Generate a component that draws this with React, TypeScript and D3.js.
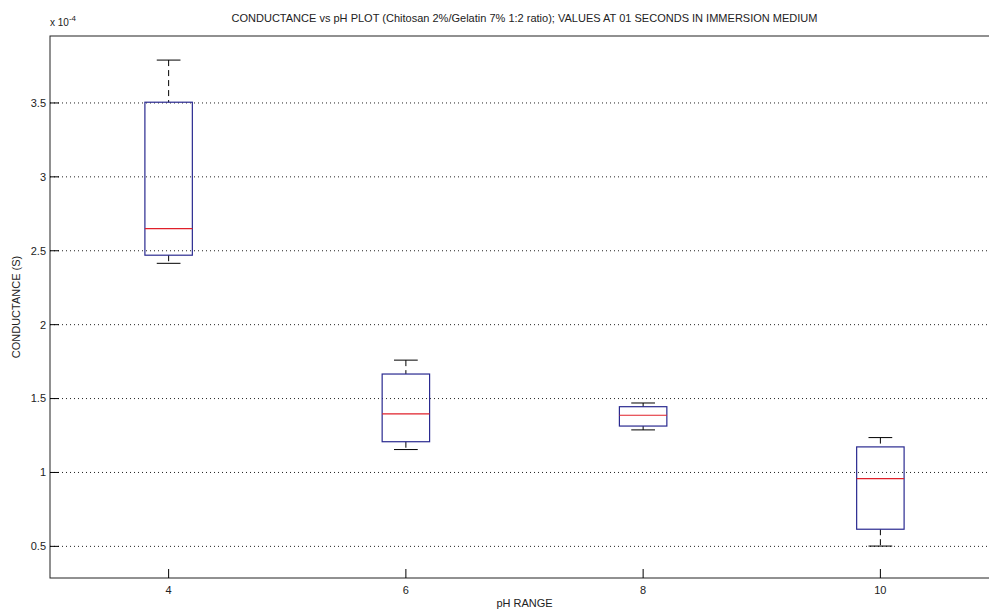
import React from "react";
import * as d3 from "d3";

const categories = ["4", "6", "8", "10"];
const upperWhisker = [3.79, 1.76, 1.47, 1.236];
const q3 = [3.505, 1.666, 1.445, 1.173];
const median = [2.65, 1.396, 1.387, 0.959];
const q1 = [2.47, 1.208, 1.314, 0.616];
const lowerWhisker = [2.415, 1.155, 1.288, 0.502];
const yTicks = [0.5, 1, 1.5, 2, 2.5, 3, 3.5];
const yTickLabels = ["0.5", "1", "1.5", "2", "2.5", "3", "3.5"];

const W = 989, H = 614;
const left = 50, right = 999, top = 36, bottom = 578;

export default function App() {
  const x = d3.scaleLinear().domain([0.5, 4.5]).range([left, right]);
  const y = d3.scaleLinear().domain([0.286, 3.953]).range([bottom, top]);
  const font = "'Liberation Sans', Arial, sans-serif";
  const boxHalf = 0.1, capHalf = 0.05;
  return (
    <svg width={W} height={H} style={{ position: "absolute", left: 0, top: 0, background: "#fff" }} fontFamily={font}>
      <rect x={0} y={0} width={W} height={H} fill="#fff" />
      {/* grid */}
      {yTicks.map((t, i) => (
        <line key={"g" + i} x1={left} x2={right} y1={y(t)} y2={y(t)} stroke="#222" strokeWidth={1} strokeDasharray="1,3" />
      ))}
      {/* boxes */}
      {categories.map((c, i) => {
        const cx = x(i + 1);
        return (
          <g key={"b" + i}>
            <line x1={cx} x2={cx} y1={y(upperWhisker[i])} y2={y(q3[i])} stroke="#000" strokeDasharray="6,4" />
            <line x1={cx} x2={cx} y1={y(q1[i])} y2={y(lowerWhisker[i])} stroke="#000" strokeDasharray="6,4" />
            <line x1={x(i + 1 - capHalf)} x2={x(i + 1 + capHalf)} y1={y(upperWhisker[i])} y2={y(upperWhisker[i])} stroke="#000" />
            <line x1={x(i + 1 - capHalf)} x2={x(i + 1 + capHalf)} y1={y(lowerWhisker[i])} y2={y(lowerWhisker[i])} stroke="#000" />
            <rect x={x(i + 1 - boxHalf)} y={y(q3[i])} width={x(i + 1 + boxHalf) - x(i + 1 - boxHalf)} height={y(q1[i]) - y(q3[i])} fill="none" stroke="#2a2a90" strokeWidth={1.2} />
            <line x1={x(i + 1 - boxHalf)} x2={x(i + 1 + boxHalf)} y1={y(median[i])} y2={y(median[i])} stroke="#e0202a" strokeWidth={1.2} />
          </g>
        );
      })}
      {/* axes box */}
      <rect x={left} y={top} width={right - left} height={bottom - top} fill="none" stroke="#222" strokeWidth={1} />
      {/* y ticks */}
      {yTicks.map((t, i) => (
        <g key={"yt" + i}>
          <line x1={left} x2={left + 9} y1={y(t)} y2={y(t)} stroke="#000" />
          <text x={left - 4} y={y(t)} dy="0.35em" textAnchor="end" fontSize={11} fill="#222">{yTickLabels[i]}</text>
        </g>
      ))}
      {/* x ticks */}
      {categories.map((c, i) => (
        <g key={"xt" + i}>
          <line x1={x(i + 1)} x2={x(i + 1)} y1={bottom} y2={bottom - 9} stroke="#000" />
          <text x={x(i + 1)} y={bottom + 16} textAnchor="middle" fontSize={11} fill="#222">{c}</text>
        </g>
      ))}
      <text x={left} y={26} fontSize={10} fill="#222">x 10<tspan dy={-5} fontSize={8}>-4</tspan></text>
      <text x={(left + right) / 2} y={22} textAnchor="middle" fontSize={11} fill="#222" textLength={586} lengthAdjust="spacingAndGlyphs">CONDUCTANCE vs pH PLOT (Chitosan 2%/Gelatin 7% 1:2 ratio); VALUES AT 01 SECONDS IN IMMERSION MEDIUM</text>
      <text x={(left + right) / 2} y={607} textAnchor="middle" fontSize={11} fill="#222">pH RANGE</text>
      <text transform={`translate(20,${(top + bottom) / 2}) rotate(-90)`} textAnchor="middle" fontSize={11} fill="#222">CONDUCTANCE (S)</text>
    </svg>
  );
}
